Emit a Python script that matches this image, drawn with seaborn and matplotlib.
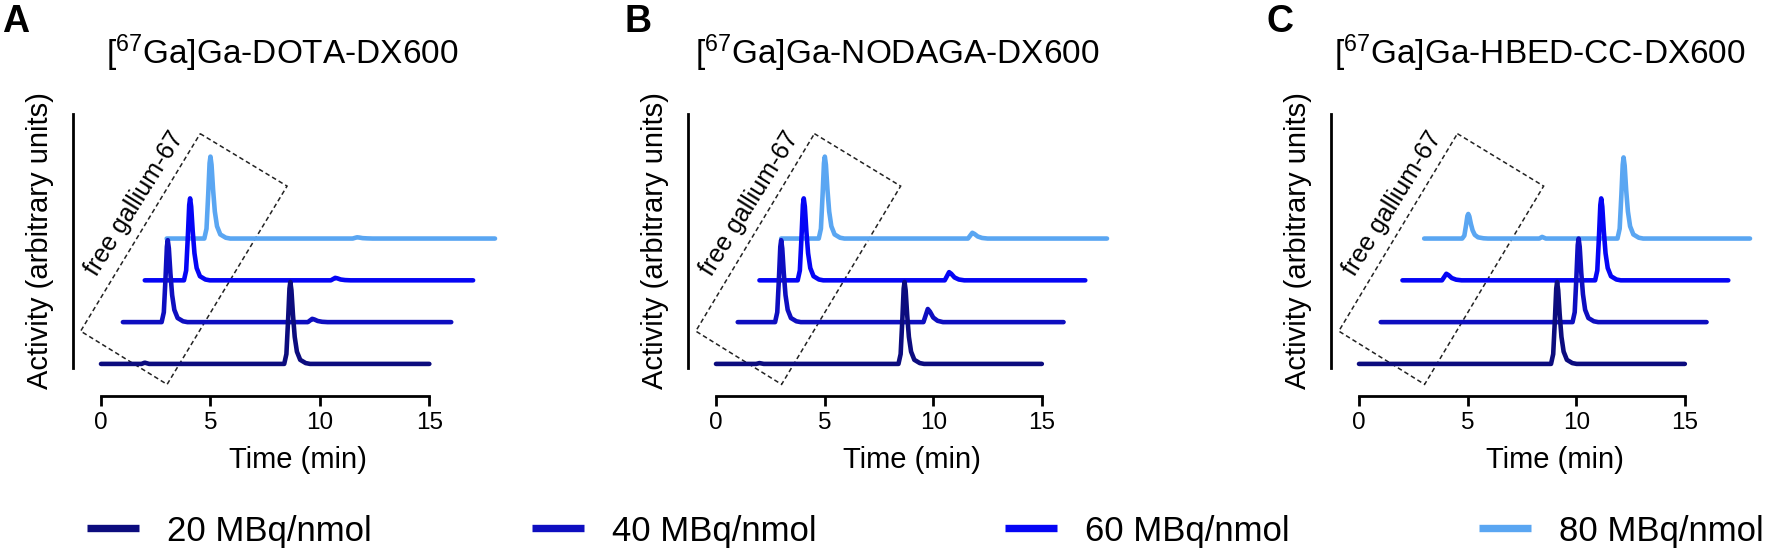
import matplotlib
matplotlib.use('Agg')
import matplotlib.pyplot as plt
from matplotlib.lines import Line2D
from matplotlib.patches import Polygon
import seaborn as sns
import numpy as np

# HPLC traces, time (min) vs activity (a.u.)
# panel A: DOTA
A_t20 = [0, 1.85, 2.0, 2.2, 8.37, 8.47, 8.55, 8.61, 8.65, 8.70, 8.77, 8.85, 8.95, 9.10, 9.35, 9.55, 15]
A_y20 = [0, 0, 1.5, 0, 0, 12, 55, 92, 100, 90, 60, 33, 15, 5, 1, 0, 0]
A_t40 = [0, 1.77, 1.87, 1.95, 2.01, 2.05, 2.10, 2.17, 2.25, 2.35, 2.50, 2.75, 2.95, 8.45, 8.55, 8.65, 8.75, 8.90, 9.10, 9.35, 15]
A_y40 = [0, 0, 12, 55, 92, 100, 90, 60, 33, 15, 5, 1, 0, 0, 2, 4, 3.2, 1.4, 0.4, 0, 0]
A_t60 = [0, 1.79, 1.89, 1.97, 2.03, 2.07, 2.12, 2.19, 2.27, 2.37, 2.52, 2.77, 2.97, 8.50, 8.60, 8.70, 8.80, 8.95, 9.15, 9.40, 15]
A_y60 = [0, 0, 12, 55, 92, 100, 90, 60, 33, 15, 5, 1, 0, 0, 1.5, 3, 2.4, 1, 0.3, 0, 0]
A_t80 = [0, 1.72, 1.82, 1.90, 1.96, 2.00, 2.05, 2.12, 2.20, 2.30, 2.45, 2.70, 2.90, 8.50, 8.60, 8.70, 8.80, 8.95, 9.15, 9.40, 15]
A_y80 = [0, 0, 12, 55, 92, 100, 90, 60, 33, 15, 5, 1, 0, 0, 0.8, 1.5, 1.2, 0.5, 0.2, 0, 0]

# panel B: NODAGA
B_t20 = [0, 1.85, 2.0, 2.2, 8.40, 8.50, 8.58, 8.64, 8.68, 8.73, 8.80, 8.88, 8.98, 9.13, 9.38, 9.58, 15]
B_y20 = [0, 0, 1, 0, 0, 12, 55, 92, 100, 90, 60, 33, 15, 5, 1, 0, 0]
B_t40 = [0, 1.72, 1.82, 1.90, 1.96, 2.00, 2.05, 2.12, 2.20, 2.30, 2.45, 2.70, 2.90, 8.55, 8.65, 8.75, 8.85, 9.00, 9.20, 9.45, 15]
B_y40 = [0, 0, 12, 55, 92, 100, 90, 60, 33, 15, 5, 1, 0, 0, 8, 16, 12.8, 5.6, 1.6, 0, 0]
B_t60 = [0, 1.76, 1.86, 1.94, 2.00, 2.04, 2.09, 2.16, 2.24, 2.34, 2.49, 2.74, 2.94, 8.53, 8.63, 8.73, 8.83, 8.98, 9.18, 9.43, 15]
B_y60 = [0, 0, 12, 55, 92, 100, 90, 60, 33, 15, 5, 1, 0, 0, 5, 10, 8, 3.5, 1, 0, 0]
B_t80 = [0, 1.73, 1.83, 1.91, 1.97, 2.01, 2.06, 2.13, 2.21, 2.31, 2.46, 2.71, 2.91, 8.60, 8.70, 8.80, 8.90, 9.05, 9.25, 9.50, 15]
B_y80 = [0, 0, 12, 55, 92, 100, 90, 60, 33, 15, 5, 1, 0, 0, 3.5, 7, 5.6, 2.5, 0.7, 0, 0]

# panel C: HBED-CC
C_t20 = [0, 8.84, 8.94, 9.02, 9.08, 9.12, 9.17, 9.24, 9.32, 9.42, 9.57, 9.82, 10.02, 15]
C_y20 = [0, 0, 12, 55, 92, 100, 90, 60, 33, 15, 5, 1, 0, 0]
C_t40 = [0, 8.83, 8.93, 9.01, 9.07, 9.11, 9.16, 9.23, 9.31, 9.41, 9.56, 9.81, 10.01, 15]
C_y40 = [0, 0, 12, 56, 94, 102, 92, 61, 34, 15, 5, 1, 0, 0]
C_t60 = [0, 1.82, 1.92, 2.02, 2.12, 2.27, 2.47, 2.72, 8.87, 8.97, 9.05, 9.11, 9.15, 9.20, 9.27, 9.35, 9.45, 9.60, 9.85, 10.05, 15]
C_y60 = [0, 0, 4, 8, 6.4, 2.8, 0.8, 0, 0, 12, 55, 92, 100, 90, 60, 33, 15, 5, 1, 0, 0]
C_t80 = [0, 1.75, 1.85, 1.93, 1.99, 2.03, 2.08, 2.15, 2.23, 2.33, 2.48, 2.73, 2.93, 5.30, 5.43, 5.60,
         8.90, 9.00, 9.08, 9.14, 9.18, 9.23, 9.30, 9.38, 9.48, 9.63, 9.88, 10.08, 15]
C_y80 = [0, 0, 3.6, 16.5, 27.6, 30, 27, 18, 10, 4.5, 1.5, 0.3, 0, 0, 2, 0,
         0, 12, 54, 90, 99, 89, 59, 33, 15, 5, 1, 0, 0]

doses = ['20 MBq/nmol', '40 MBq/nmol', '60 MBq/nmol', '80 MBq/nmol']
colors = ['#0c0c7e', '#0e0ec0', '#0505f5', '#5aa6f2']
titles = [r'[$^{67}$Ga]Ga-DOTA-DX600', r'[$^{67}$Ga]Ga-NODAGA-DX600', r'[$^{67}$Ga]Ga-HBED-CC-DX600']
letters = ['A', 'B', 'C']
xticks = [0, 5, 10, 15]

panels = [
    [(A_t20, A_y20), (A_t40, A_y40), (A_t60, A_y60), (A_t80, A_y80)],
    [(B_t20, B_y20), (B_t40, B_y40), (B_t60, B_y60), (B_t80, B_y80)],
    [(C_t20, C_y20), (C_t40, C_y40), (C_t60, C_y60), (C_t80, C_y80)],
]

# dashed "free gallium-67" box (data coords of the rotated rectangle)
box_x = [4.53, 8.5, 3.02, -0.93]
box_y = [281, 217, -25, 40]

# waterfall offsets between traces
x_step = 1.0
y_step = 51

sns.set_theme(style='ticks')
plt.rcParams['font.family'] = ['Liberation Sans', 'DejaVu Sans']
plt.rcParams['mathtext.fontset'] = 'custom'
plt.rcParams['mathtext.rm'] = 'Liberation Sans'
plt.rcParams['mathtext.it'] = 'Liberation Sans:italic'
plt.rcParams['mathtext.bf'] = 'Liberation Sans:bold'
plt.rcParams['text.color'] = 'black'
plt.rcParams['axes.labelcolor'] = 'black'
plt.rcParams['xtick.color'] = 'black'

W, H = 1769, 556
fig = plt.figure(figsize=(W / 100, H / 100), dpi=100)

lefts = [101, 716, 1359]
widths = [394, 391, 391]
title_x = [282, 897, 1540]
letter_x = [2, 624, 1266]

for p, traces in enumerate(panels):
    ax = fig.add_axes([lefts[p] / W, 188 / H, widths[p] / W, 254 / H])
    for i in reversed(range(4)):
        t, y = traces[i]
        sns.lineplot(x=np.array(t) + i * x_step, y=np.array(y) + i * y_step, ax=ax,
                     color=colors[i], lw=3.3, estimator=None, sort=False, clip_on=False)
    ax.set_xlim(0, 18)
    ax.set_ylim(-5, 305)
    ax.set_xticks(xticks)
    ax.set_yticks([])
    sns.despine(ax=ax, offset=20)
    ax.spines['bottom'].set_bounds(0, 15)
    for s in ['left', 'bottom']:
        ax.spines[s].set_linewidth(2)
        ax.spines[s].set_color('black')
    ax.tick_params(axis='x', length=7, width=2, labelsize=17.5, pad=5)
    ax.set_xlabel('Time (min)', fontsize=21, labelpad=8)
    ax.set_ylabel('Activity (arbitrary units)', fontsize=21, labelpad=14)

    ax.add_patch(Polygon(np.column_stack([box_x, box_y]), closed=True, fill=False,
                         ls=(0, (3, 2)), lw=1.1, ec='#222222', clip_on=False))
    ax.text(1.55, 196, 'free gallium-67', rotation=58, rotation_mode='anchor',
            ha='center', va='center', fontsize=18)

    fig.text(title_x[p] / W, 1 - 53 / H, titles[p], ha='center', va='center', fontsize=24)
    fig.text(letter_x[p] / W, 1 - 22 / H, letters[p], ha='left', va='center',
             fontsize=27, fontweight='bold')

legend_x = [87, 532, 1005, 1479]
for i in range(4):
    h = Line2D([], [], color=colors[i], lw=5.3, solid_capstyle='butt')
    fig.legend(handles=[h], labels=[doses[i]], loc='center left',
               bbox_to_anchor=(legend_x[i] / W, 1 - 531 / H), frameon=False,
               fontsize=25, handlelength=1.5, handletextpad=0.8,
               borderpad=0, borderaxespad=0)

fig.savefig('out.png', dpi=100)
